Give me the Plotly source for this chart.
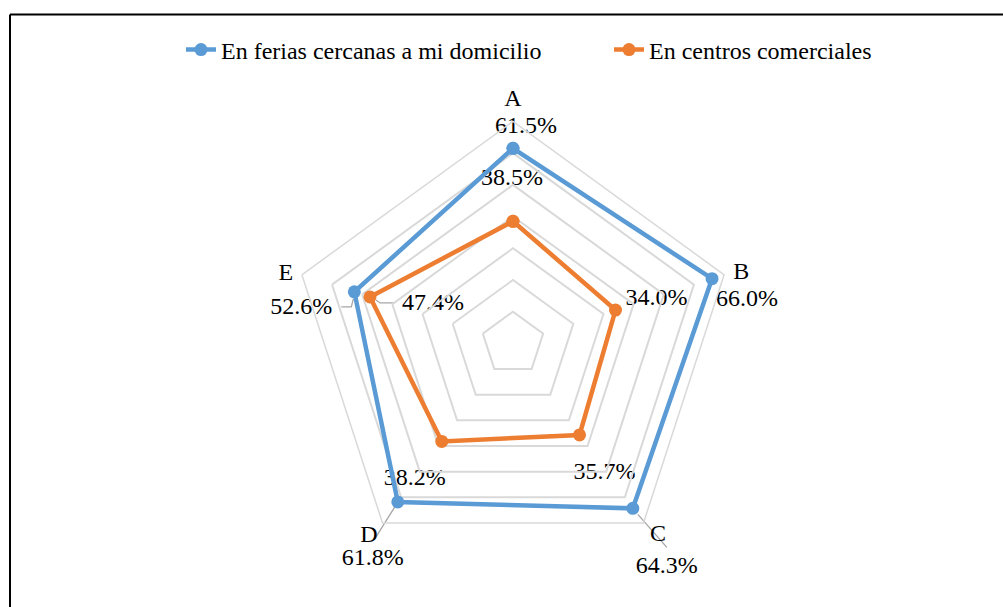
import math
import plotly.graph_objects as go

# Survey results: where people prefer to shop, by category
categories = ["A", "B", "C", "D", "E"]
ferias = [0.615, 0.660, 0.643, 0.618, 0.526]
centros = [0.385, 0.340, 0.357, 0.382, 0.474]
series_names = ["En ferias cercanas a mi domicilio", "En centros comerciales"]

BLUE = "#5b9bd5"
ORANGE = "#ed7d31"
GRID = "#d9d9d9"
LEADER = "#a6a6a6"
FONT = "Liberation Serif, Times New Roman, serif"
FS = 24

W, H = 1003, 607
RMAX = 0.7
DOM_X = [0.2901, 0.7328]
DOM_Y = [0.0686, 0.8000]
RADIUS_PX = (DOM_X[1] - DOM_X[0]) * W / 2
SCALE = RADIUS_PX / RMAX
STEP = 360 / len(categories)
# centre of the radar in pixels (x right, y up from the bottom)
CX = (DOM_X[0] + DOM_X[1]) / 2 * W
CY = (DOM_Y[0] + DOM_Y[1]) / 2 * H


def to_xy(r, i, dx=0.0, dy=0.0):
    """Pixel position (relative to the radar centre) of value r on spoke i, plus a screen offset (y down)."""
    a = math.radians(90 - i * STEP)
    return r * SCALE * math.cos(a) + dx, r * SCALE * math.sin(a) - dy


# screen offsets of each value label from its point
label_off = {
    0: [(13, -21), (35, 21), (34, 59), (-25, 57), (-53, 16)],
    1: [(-1, -42), (41, -11), (25, 38), (-27, 38), (63, 7)],
}
# leader lines: (series, category index, offsets along the line)
leaders = [
    (0, 2, [(5, 6), (34, 39)]),
    (0, 3, [(-3, 5), (-23, 37)]),
    (0, 4, [(-1, 7), (-3, 15), (-13, 15)]),
    (1, 4, [(6, 3), (10, 6), (25, 6)]),
]
CAT_LABEL_R = 240  # px from the centre
cat_nudge = [(0, -3), (0, 4), (4, -3), (-3, -2), (1, 5)]

fig = go.Figure()

# overlay axes in pixel units centred on the radar, for labels and leader lines
for s, i, offs in leaders:
    vals = [ferias, centros][s]
    pts = [to_xy(vals[i], i, dx, dy) for dx, dy in offs]
    fig.add_trace(go.Scatter(
        x=[p[0] for p in pts], y=[p[1] for p in pts],
        mode="lines", line=dict(color=LEADER, width=1.3),
        showlegend=False, hoverinfo="skip", cliponaxis=False,
    ))

legend_ids = ["legend", "legend2"]
for vals, name, color, lg in [(ferias, series_names[0], BLUE, legend_ids[0]),
                              (centros, series_names[1], ORANGE, legend_ids[1])]:
    fig.add_trace(go.Scatterpolar(
        r=vals + vals[:1], theta=categories + categories[:1],
        mode="lines+markers", name=name, legend=lg,
        line=dict(color=color, width=4.5),
        marker=dict(color=color, size=13),
        subplot="polar",
    ))

for s, vals in enumerate([ferias, centros]):
    pts = [to_xy(v, i, *label_off[s][i]) for i, v in enumerate(vals)]
    fig.add_trace(go.Scatter(
        x=[p[0] for p in pts], y=[p[1] for p in pts],
        mode="text", text=[f"{v * 100:.1f}%" for v in vals],
        textposition="middle center",
        textfont=dict(family=FONT, size=FS, color="black"),
        showlegend=False, hoverinfo="skip", cliponaxis=False,
    ))

# category names around the outside
cat_pts = [to_xy(CAT_LABEL_R / SCALE, i, *cat_nudge[i]) for i in range(len(categories))]
fig.add_trace(go.Scatter(
    x=[p[0] for p in cat_pts], y=[p[1] for p in cat_pts],
    mode="text", text=categories, textposition="middle center",
    textfont=dict(family=FONT, size=FS, color="black"),
    showlegend=False, hoverinfo="skip", cliponaxis=False,
))

legend_style = dict(
    orientation="h", xanchor="left", y=1 - 50 / H, yanchor="middle",
    font=dict(family=FONT, size=FS, color="black"), bgcolor="rgba(0,0,0,0)",
)

fig.update_layout(
    width=W, height=H,
    margin=dict(l=0, r=0, t=0, b=0, autoexpand=False),
    paper_bgcolor="white",
    plot_bgcolor="rgba(0,0,0,0)",
    font=dict(family=FONT, size=FS, color="black"),
    showlegend=True,
    legend=dict(x=181 / W, **legend_style),
    legend2=dict(x=609 / W, **legend_style),
    xaxis=dict(domain=[0, 1], range=[-CX, W - CX], visible=False, fixedrange=True),
    yaxis=dict(domain=[0, 1], range=[-CY, H - CY], visible=False, fixedrange=True),
    polar=dict(
        domain=dict(x=DOM_X, y=DOM_Y),
        bgcolor="rgba(0,0,0,0)",
        gridshape="linear",
        radialaxis=dict(range=[0, RMAX], dtick=0.1, showticklabels=False, ticks="",
                        showline=False, gridcolor=GRID, gridwidth=1.5),
        angularaxis=dict(type="category", rotation=90, direction="clockwise",
                         showgrid=False, linecolor=GRID, linewidth=1.5,
                         showticklabels=False, ticks=""),
    ),
    shapes=[
        dict(type="line", xref="paper", yref="paper", x0=10 / W, x1=10 / W,
             y0=0, y1=1 - 14.5 / H, line=dict(color="black", width=2)),
        dict(type="line", xref="paper", yref="paper", x0=10 / W, x1=1,
             y0=1 - 14.5 / H, y1=1 - 14.5 / H, line=dict(color="black", width=2)),
    ],
)

fig.write_html("out.html")
